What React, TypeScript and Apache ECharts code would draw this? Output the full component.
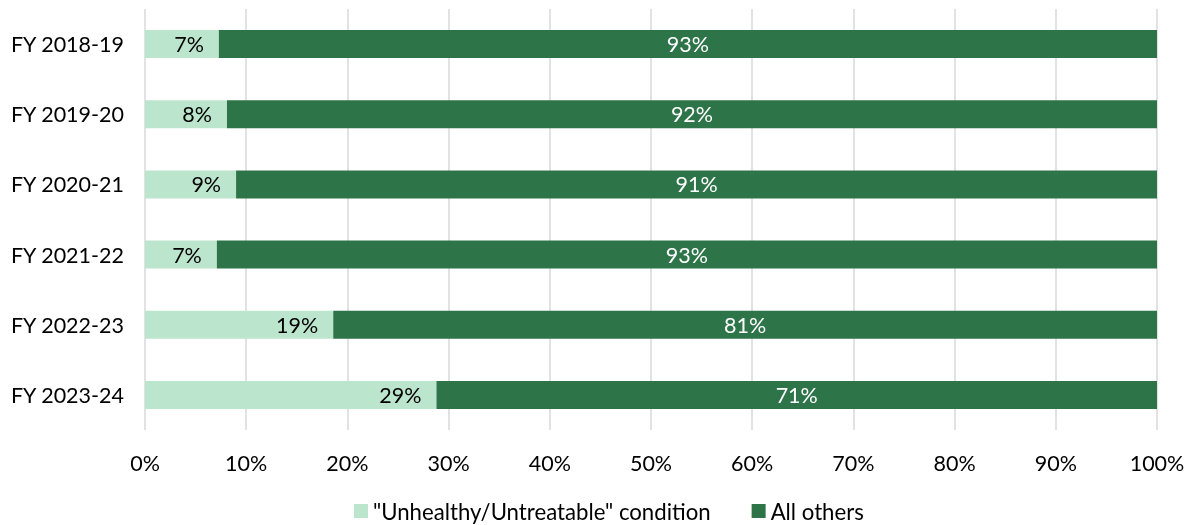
import React, { useEffect, useRef } from "react";
import * as echarts from "echarts";

const categories = ["FY 2018-19", "FY 2019-20", "FY 2020-21", "FY 2021-22", "FY 2022-23", "FY 2023-24"];
const unhealthy = [7.3, 8.1, 9.0, 7.1, 18.6, 28.8];
const allOthers = [92.7, 91.9, 91.0, 92.9, 81.4, 71.2];
const seriesNames = ['"Unhealthy/Untreatable" condition', "All others"];

const FONT = "Lato, 'Open Sans', sans-serif";
const FS = 21.5;

export default function App() {
  const ref = useRef<HTMLDivElement>(null);
  useEffect(() => {
    if (!ref.current) return;
    const chart = echarts.init(ref.current, null, { renderer: "svg" });
    chart.setOption({
      animation: false,
      textStyle: { fontFamily: FONT },
      grid: { left: 145, right: 36, top: 9, bottom: 95, containLabel: false },
      legend: {
        bottom: -2,
        left: 349,
        itemWidth: 14,
        itemHeight: 14,
        itemGap: 41,
        icon: "rect",
        textStyle: { fontSize: 22.2, color: "#000", fontFamily: FONT },
        data: seriesNames,
      },
      xAxis: {
        type: "value",
        min: 0,
        max: 100,
        interval: 10,
        axisLabel: { formatter: "{value}%", fontSize: FS, color: "#000", margin: 22, fontFamily: FONT },
        axisLine: { show: false },
        axisTick: { show: false },
        splitLine: { show: true, lineStyle: { color: "#d9d9d9", width: 1.5 } },
      },
      yAxis: {
        type: "category",
        data: categories,
        inverse: true,
        axisLabel: { fontSize: FS, color: "#000", margin: 21, fontFamily: FONT },
        axisLine: { show: false },
        axisTick: { show: false },
      },
      series: [
        {
          name: seriesNames[0],
          type: "bar",
          stack: "total",
          barWidth: "40%",
          data: unhealthy,
          itemStyle: { color: "#bbe5cc" },
          label: {
            show: true,
            position: "insideRight",
            formatter: (p: any) => Math.round(p.value) + "%",
            color: "#000",
            fontSize: FS,
            fontFamily: FONT,
            distance: 15,
          },
        },
        {
          name: seriesNames[1],
          type: "bar",
          stack: "total",
          barWidth: "40%",
          data: allOthers,
          itemStyle: { color: "#2e7449" },
          label: {
            show: true,
            position: "inside",
            formatter: (p: any) => Math.round(p.value) + "%",
            color: "#fff",
            fontSize: FS,
            fontFamily: FONT,
          },
        },
      ],
    });
    return () => chart.dispose();
  }, []);
  return <div ref={ref} style={{ position: "fixed", left: 0, top: 0, width: 1193, height: 525 }} />;
}
